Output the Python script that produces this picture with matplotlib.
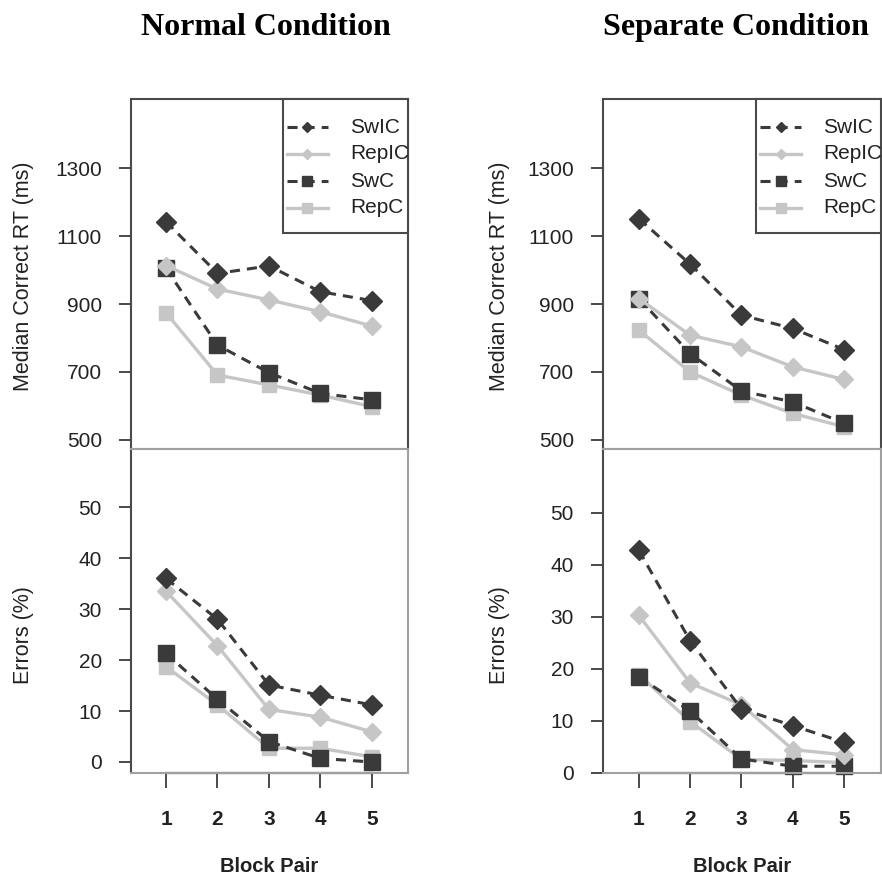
import matplotlib
matplotlib.use("Agg")
import matplotlib.pyplot as plt
from matplotlib.lines import Line2D
from matplotlib.patches import Rectangle

# ---------------- data ----------------
blocks = [1, 2, 3, 4, 5]
series_names = ["SwIC", "RepIC", "SwC", "RepC"]

normal_rt_swic = [1142, 990, 1012, 936, 910]
normal_rt_repic = [1013, 944, 912, 877, 835]
normal_rt_swc = [1005, 779, 698, 637, 618]
normal_rt_repc = [874, 691, 662, 632, 598]

normal_err_swic = [36.0, 28.0, 15.1, 13.1, 11.2]
normal_err_repic = [33.5, 22.8, 10.3, 8.8, 5.9]
normal_err_swc = [21.3, 12.3, 4.0, 0.7, 0.0]
normal_err_repc = [18.7, 11.2, 2.7, 2.7, 1.0]

sep_rt_swic = [1151, 1017, 867, 828, 766]
sep_rt_repic = [916, 808, 774, 715, 678]
sep_rt_swc = [916, 754, 644, 612, 549]
sep_rt_repc = [823, 700, 632, 578, 539]

sep_err_swic = [42.8, 25.4, 12.3, 9.1, 5.9]
sep_err_repic = [30.3, 17.3, 13.1, 4.5, 3.5]
sep_err_swc = [18.5, 11.9, 2.7, 1.3, 1.3]
sep_err_repc = [18.9, 9.9, 2.6, 2.4, 2.0]

rt_ticks = [500, 700, 900, 1100, 1300]
err_ticks = [0, 10, 20, 30, 40, 50]
titles = ["Normal Condition", "Separate Condition"]

# ---------------- style ----------------
DARK = "#3a3a3a"
LIGHT = "#c6c6c6"
FRAME = "#4a4a4a"
GRAYFRAME = "#a0a0a0"
TXT = "#222222"
SANS = ["Liberation Sans", "DejaVu Sans"]
SERIF = ["Liberation Serif", "DejaVu Serif"]
plt.rcParams["font.family"] = SANS

DASH = (0, (3.3, 2.3))
styles = {
    "SwIC": dict(color=DARK, ls=DASH, lw=2.2, marker="D", ms=10, mfc=DARK, mec=DARK),
    "RepIC": dict(color=LIGHT, ls="-", lw=2.4, marker="D", ms=9, mfc=LIGHT, mec=LIGHT),
    "SwC": dict(color=DARK, ls=DASH, lw=2.2, marker="s", ms=12, mfc=DARK, mec=DARK),
    "RepC": dict(color=LIGHT, ls="-", lw=2.4, marker="s", ms=10.5, mfc=LIGHT, mec=LIGHT),
}
legend_ms = {"SwIC": 5.5, "RepIC": 5.5, "SwC": 7.5, "RepC": 7.5}
draw_order = ["RepC", "SwC", "RepIC", "SwIC"]

W, H = 882, 881
fig = plt.figure(figsize=(W / 100, H / 100), dpi=100)


def fx(px):
    return px / W


def fy(py):
    return 1 - py / H


panels = [
    dict(x0=131, x1=408, xlim=(0.32, 5.70),
         rt=dict(SwIC=normal_rt_swic, RepIC=normal_rt_repic, SwC=normal_rt_swc, RepC=normal_rt_repc),
         err=dict(SwIC=normal_err_swic, RepIC=normal_err_repic, SwC=normal_err_swc, RepC=normal_err_repc),
         err_ylim=(-2.16, 61.4), title_x=265.5, ylab_x=24),
    dict(x0=603, x1=881, xlim=(0.30, 5.72),
         rt=dict(SwIC=sep_rt_swic, RepIC=sep_rt_repic, SwC=sep_rt_swc, RepC=sep_rt_repc),
         err=dict(SwIC=sep_err_swic, RepIC=sep_err_repic, SwC=sep_err_swc, RepC=sep_err_repc),
         err_ylim=(0, 62.3), title_x=735.5, ylab_x=499),
]

TOP_Y0, TOP_Y1, BOT_Y1 = 99, 449, 773
TICKFS = 15
legend_rows = [127, 153.5, 181, 207.5]   # pixel rows of legend entries

for i, p in enumerate(panels):
    left = fx(p["x0"])
    wpx = p["x1"] - p["x0"]
    width = wpx / W
    ax_top = fig.add_axes([left, fy(TOP_Y1), width, (TOP_Y1 - TOP_Y0) / H])
    ax_bot = fig.add_axes([left, fy(BOT_Y1), width, (BOT_Y1 - TOP_Y1) / H])

    # --- top: RT ---
    for name in draw_order:
        ax_top.plot(blocks, p["rt"][name], label=name, clip_on=False, **styles[name])
    ax_top.set_xlim(*p["xlim"])
    ax_top.set_ylim(473.5, 1503)
    ax_top.set_yticks(rt_ticks)
    ax_top.set_xticks([])
    for s in ["left", "top", "right"]:
        ax_top.spines[s].set_color(FRAME)
        ax_top.spines[s].set_linewidth(1.5)
    ax_top.spines["bottom"].set_color(GRAYFRAME)
    ax_top.spines["bottom"].set_linewidth(1.5)
    ax_top.tick_params(axis="y", direction="out", length=9, width=1.4, color=FRAME,
                       pad=12, labelsize=TICKFS, labelcolor=TXT)

    # --- legend box (drawn in axes fraction, anchored to the top-right corner) ---
    hpx = TOP_Y1 - TOP_Y0

    def ax_xf(off_from_right):
        return 1 - off_from_right / wpx

    def ax_yf(py):
        return (TOP_Y1 - py) / hpx

    box_left = ax_xf(125)
    box_bottom = ax_yf(233)
    ax_top.add_patch(Rectangle((box_left, box_bottom), 1 - box_left, 1 - box_bottom,
                               transform=ax_top.transAxes, facecolor="white",
                               edgecolor=FRAME, lw=1.5, zorder=5, clip_on=False))
    for name, ry in zip(series_names, legend_rows):
        st = dict(styles[name])
        st["ms"] = legend_ms[name]
        ax_top.add_line(Line2D([ax_xf(121), ax_xf(80)], [ax_yf(ry)] * 2,
                               transform=ax_top.transAxes, zorder=6, markevery=[], **{k: v for k, v in st.items() if k not in ("marker", "ms", "mfc", "mec")}))
        ax_top.add_line(Line2D([(ax_xf(121) + ax_xf(80)) / 2], [ax_yf(ry)],
                               transform=ax_top.transAxes, zorder=7, ls="none",
                               marker=st["marker"], ms=st["ms"], mfc=st["mfc"], mec=st["mec"]))
        ax_top.text(ax_xf(58), ax_yf(ry), name, transform=ax_top.transAxes,
                    ha="left", va="center", fontsize=TICKFS, color=TXT, zorder=7,
                    clip_on=True)

    # --- bottom: errors ---
    for name in draw_order:
        ax_bot.plot(blocks, p["err"][name], clip_on=False, **styles[name])
    ax_bot.set_xlim(*p["xlim"])
    ax_bot.set_ylim(*p["err_ylim"])
    ax_bot.set_yticks(err_ticks)
    ax_bot.set_xticks(blocks)
    for s in ["top", "right", "bottom"]:
        ax_bot.spines[s].set_color(GRAYFRAME)
        ax_bot.spines[s].set_linewidth(1.5)
    ax_bot.spines["left"].set_color(FRAME)
    ax_bot.spines["left"].set_linewidth(1.5)
    ax_bot.plot([blocks[0], blocks[-1]], [p["err_ylim"][0]] * 2, color=FRAME, lw=1.6,
                clip_on=False, zorder=1)
    ax_bot.tick_params(axis="y", direction="out", length=9, width=1.4, color=FRAME,
                       pad=12, labelsize=TICKFS, labelcolor=TXT)
    ax_bot.tick_params(axis="x", direction="out", length=10.5, width=1.4, color=FRAME,
                       pad=16, labelsize=TICKFS, labelcolor=TXT)
    for lab in ax_bot.get_xticklabels():
        lab.set_fontweight("bold")

    # --- texts ---
    fig.text(fx(p["title_x"]), fy(35), titles[i], ha="center", va="baseline",
             fontsize=23, fontweight="bold", family=SERIF)
    fig.text(fx((p["x0"] + p["x1"]) / 2), fy(866), "Block Pair", ha="center", va="center",
             fontsize=14.5, fontweight="bold", color=TXT)
    fig.text(fx(p["ylab_x"]), fy(391), "Median Correct RT (ms)", rotation=90,
             ha="center", va="bottom", fontsize=15.5, color=TXT)
    fig.text(fx(p["ylab_x"]), fy(635), "Errors (%)", rotation=90,
             ha="center", va="center", fontsize=15.5, color=TXT)

fig.savefig("out.png", dpi=100)
